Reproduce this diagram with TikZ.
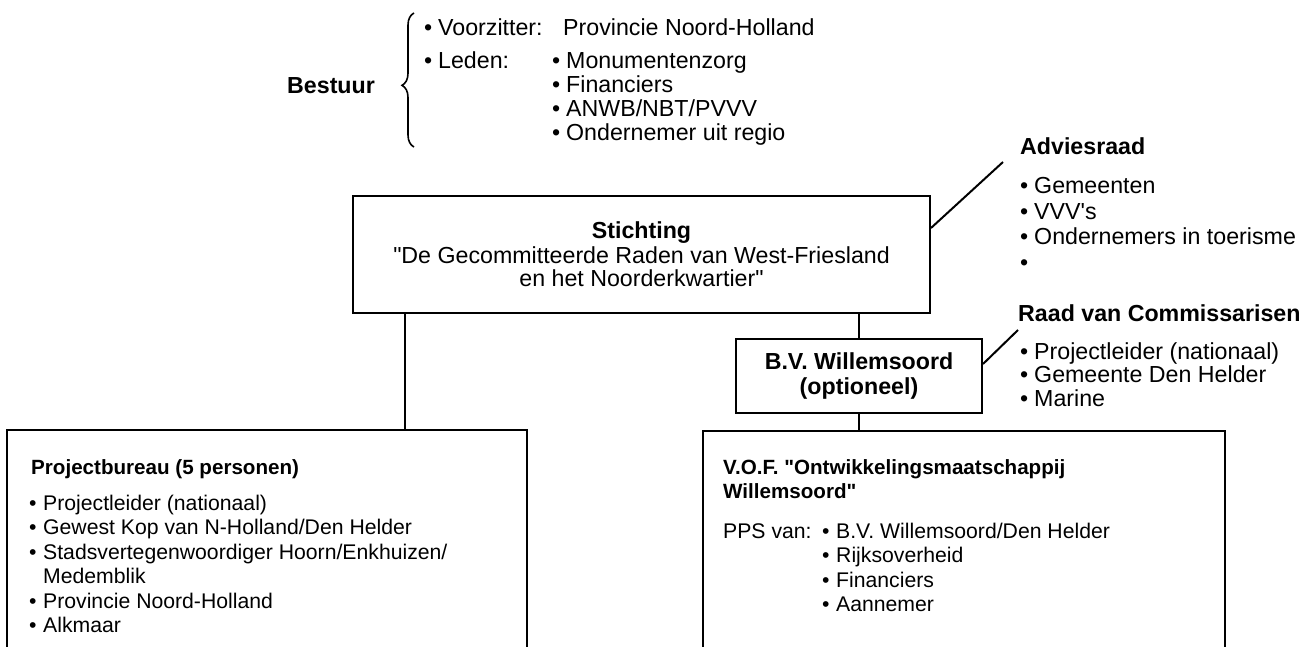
\documentclass[tikz,border=0pt]{standalone}
\usepackage{fontspec}
\setmainfont{Liberation Sans}
\usetikzlibrary{decorations.pathreplacing}
\newcommand\fs{\fontsize{23.2}{24.5}\selectfont}
\newcommand\fb{\fontsize{21.2}{24.5}\selectfont}
\newcommand\fbb{\fontsize{20.6}{24.5}\selectfont}
\newcommand\bul{\makebox[14pt][l]{\textbullet}}
\newcommand\q{\textquotedbl}
\newcommand\lst[2][1]{{\renewcommand\arraystretch{#1}\begin{tabular}[t]{@{}l@{}}#2\end{tabular}}}
\tikzset{
  box/.style={draw, line width=2pt, inner sep=0pt},
  txt/.style={inner sep=0pt, anchor=base west, font=\fs},
  ttl/.style={inner sep=0pt, anchor=base west, font=\fs\bfseries},
  btxt/.style={inner sep=0pt, anchor=base west, font=\fb},
  bttl/.style={inner sep=0pt, anchor=base west, font=\fbb\bfseries},
  conn/.style={line width=2pt},
}
\begin{document}
\begin{tikzpicture}[x=1pt, y=-1pt]
\useasboundingbox (0,0) rectangle (1314,647);
\clip (0,0) rectangle (1314,647);
\fill[white] (0,0) rectangle (1314,647);

% Bestuur
\node[ttl] (bestuur) at (287,94) {Bestuur};
\draw[line width=1.6pt, decorate, decoration={brace, amplitude=12pt, aspect=0.46}] (414,147) -- (414,13);
\node[txt] (vz) at (424,36) {\bul Voorzitter:};
\node[txt] (vzp) at (563,36) {Provincie Noord-Holland};
\node[txt] (ld) at (424,69) {\bul Leden:};
\node[txt] (ldl) at (552,69) {\lst[0.95]{\bul Monumentenzorg\\ \bul Financiers\\ \bul ANWB/NBT/PVVV\\ \bul Ondernemer uit regio}};

% Stichting
\node[box, minimum width=577pt, minimum height=117pt, align=center, font=\fs] (stichting) at (641.5,254.5)
  {{\bfseries Stichting}\\[0pt]\q De Gecommitteerde Raden van West-Friesland\\[-1pt]en het Noorderkwartier\q};

% Adviesraad
\node[ttl] (adv) at (1020,155) {Adviesraad};
\node[txt] (advl) at (1020,194) {\lst[1.04]{\bul Gemeenten\\ \bul VVV\textquotesingle s\\ \bul Ondernemers in toerisme\\ \bul}};
\coordinate (advtip) at (1003,162);
\draw[conn] ([yshift=26.5pt]stichting.east) -- (advtip);

% B.V.
\node[box, minimum width=246pt, minimum height=74pt, align=center, font=\fs\bfseries] (bv) at (859,376)
  {B.V. Willemsoord\\(optioneel)};
\node[ttl] (rvc) at (1018,321) {Raad van Commissarisen};
\node[txt] (rvcl) at (1020,359) {\lst[0.96]{\bul Projectleider (nationaal)\\ \bul Gemeente Den Helder\\ \bul Marine}};
\coordinate (rvctip) at (1018,330);
\draw[conn] ([yshift=12pt]bv.east) -- (rvctip);

% bottom boxes
\node[box, minimum width=520pt, minimum height=270pt] (pb) at (267,565) {};
\node[box, minimum width=522pt, minimum height=270pt] (vof) at (964,566) {};

\node[bttl] (pbt) at (31,474) {Projectbureau (5 personen)};
\node[btxt] (pbl) at (29,510) {\lst{\bul Projectleider (nationaal)\\ \bul Gewest Kop van N-Holland/Den Helder\\ \bul Stadsvertegenwoordiger Hoorn/Enkhuizen/\\ \makebox[14pt]{}Medemblik\\ \bul Provincie Noord-Holland\\ \bul Alkmaar}};

\node[bttl] (voft) at (723,474) {\lst{V.O.F. \q Ontwikkelingsmaatschappij\\ Willemsoord\q}};
\node[btxt] (pps) at (723,538) {PPS van:};
\node[btxt] (ppsl) at (822,538) {\lst{\bul B.V. Willemsoord/Den Helder\\ \bul Rijksoverheid\\ \bul Financiers\\ \bul Aannemer}};

% connectors
\coordinate (pbx) at (405,0);
\draw[conn] (stichting.south -| pbx) -- (pb.north -| pbx);
\draw[conn] (stichting.south -| bv.north) -- (bv.north);
\draw[conn] (bv.south) -- (vof.north -| bv.south);
\end{tikzpicture}
\end{document}
